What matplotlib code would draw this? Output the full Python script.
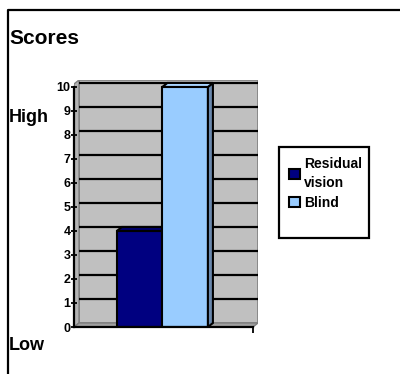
import numpy as np
from matplotlib import pyplot as plt
from matplotlib.patches import Polygon, Rectangle
from matplotlib.lines import Line2D

plt.rcParams['font.family'] = ['Liberation Sans', 'DejaVu Sans']
plt.rcParams['font.weight'] = 'bold'

series = ["Residual\nvision", "Blind"]
scores = [4, 10]
colours = ["#000080", "#99CCFF"]
side_colours = ["#000050", "#6A88AD"]
top_colours = ["#00006A", "#A8D4FF"]
yticks = list(range(0, 11))

fig = plt.figure(figsize=(4, 3.74), dpi=100)
W, H = 400, 374
ax = fig.add_axes([74 / W, 47 / H, 184 / W, 247 / H])

x0, x1 = -1.44, 2.6
ytop = 10.29
dx, dy = 0.11, 0.167   # profondeur du faux 3D
ax.set_xlim(x0, x1)
ax.set_ylim(0, ytop)

# mur du fond, mur gauche, sol
ax.add_patch(Rectangle((x0 + dx, dy), x1 - x0 - dx, ytop - dy, facecolor="#C0C0C0",
                       edgecolor="#808080", lw=1.2, zorder=1))
ax.add_patch(Polygon([(x0, 0), (x0 + dx, dy), (x0 + dx, ytop), (x0, ytop - dy)],
                     closed=True, facecolor="#B4B4B4", edgecolor="#808080", lw=1.0, zorder=1))
ax.add_patch(Polygon([(x0, 0), (x1 - dx, 0), (x1, dy), (x0 + dx, dy)],
                     closed=True, facecolor="#A0A0A0", edgecolor="#808080", lw=1.0, zorder=1))
ax.hlines(np.array(yticks[1:]) + dy, x0 + dx, x1, colors="black", lw=1.6, zorder=2)

# barres
pos = np.arange(len(series))
width = 1.0
for i in range(len(series)):
    ax.bar(pos[i], scores[i], width=width, color=colours[i], edgecolor="black",
           lw=1.5, label=series[i], zorder=3)
    xl, xr = pos[i] - width / 2, pos[i] + width / 2
    h = scores[i]
    ax.add_patch(Polygon([(xr, 0), (xr + dx, dy), (xr + dx, h + dy), (xr, h)], closed=True,
                         facecolor=side_colours[i], edgecolor="black", lw=1.5, zorder=3))
    ax.add_patch(Polygon([(xl, h), (xl + dx, h + dy), (xr + dx, h + dy), (xr, h)], closed=True,
                         facecolor=top_colours[i], edgecolor="black", lw=1.5, zorder=3))

# axes
for s in ["top", "right"]:
    ax.spines[s].set_visible(False)
ax.spines["left"].set_bounds(0, 10)
ax.spines["bottom"].set_bounds(x0, x1 - dx)
for s in ["left", "bottom"]:
    ax.spines[s].set_linewidth(1.6)
    ax.spines[s].set_zorder(4)
ax.set_yticks(yticks)
ax.set_yticklabels([str(t) for t in yticks], fontsize=9, fontweight="bold")
ax.tick_params(axis="y", direction="inout", length=5, width=1.3, pad=0)
ax.set_xticks([x1 - dx])
ax.set_xticklabels([""])
ax.tick_params(axis="x", direction="out", length=4, width=1.3)

# légende
fig.patches.append(Rectangle((279 / W, 1 - 238 / H), 90 / W, 91 / H, transform=fig.transFigure,
                             facecolor="white", edgecolor="black", lw=1.6))
leg = fig.legend(loc="upper left", bbox_to_anchor=(279 / W, 1 - 147 / H), frameon=False,
                 handlelength=0.75, handleheight=0.75, handletextpad=0.3,
                 labelspacing=0.45, borderpad=0.25, prop={"weight": "bold", "size": 10})
for t in leg.get_texts():
    t.set_linespacing(1.4)

fig.text(9 / W, 1 - 39 / H, "Scores", fontsize=15, fontweight="bold", va="center")
fig.text(9 / W, 1 - 118 / H, "High", fontsize=13, fontweight="bold", va="center")
fig.text(9 / W, 1 - 346 / H, "Low", fontsize=13, fontweight="bold", va="center")

fig.lines.append(Line2D([7.5 / W, 7.5 / W, 1], [0, 1 - 9.5 / H, 1 - 9.5 / H],
                        transform=fig.transFigure, color="black", lw=1.6))

fig.savefig("out.png", dpi=100)
